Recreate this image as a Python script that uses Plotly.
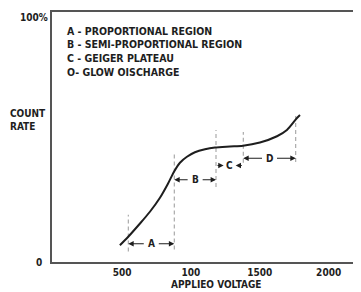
import plotly.graph_objects as go

# ---- data ----
voltage = [484, 543, 630, 702, 775, 833, 877, 920, 971, 1029, 1102, 1175, 1283, 1378, 1501, 1625, 1697, 1770, 1792]
count_rate = [6.7, 10.0, 15.4, 20.1, 25.7, 31.3, 36.1, 39.7, 42.1, 43.9, 45.1, 45.8, 46.2, 46.5, 47.8, 50.3, 52.8, 57.6, 58.8]

boundaries = [545, 879, 1182, 1380, 1761]
dash_bottom = [4.2, 5.0, 30.0, 39.7, 40.0]
dash_top = [18.9, 43.7, 52.8, 52.0, 59.6]

region_letters = ["A", "B", "C", "D"]
region_levels = [7.3, 32.9, 38.6, 41.5]
region_inward = [False, False, True, False]

legend_lines = [
    "A - PROPORTIONAL REGION",
    "B - SEMI-PROPORTIONAL REGION",
    "C - GEIGER PLATEAU",
    "O- GLOW OISCHARGE",
]

x_tick_vals = [500, 1000, 1500, 2000]
x_tick_text = ["500", "100", "1500", "2000"]
y_tick_vals = [0]
y_tick_text = ["0"]
y_top_label = "100%"

x_title = "APPLIEO VOLTAGE"
y_title = "COUNT<br>RATE"

# ---- layout constants (page has an 8px body margin) ----
OX, OY = 8, 8
W, H = 361 - OX, 292 - OY
AX_LEFT, AX_TOP, AX_BOTTOM = 52, 12, 262
ML, MR, MT = AX_LEFT - OX, 0, AX_TOP - OY
MB = 292 - AX_BOTTOM
PW, PH = W - ML - MR, H - MT - MB
INK = "#1e1e1e"
FONT = "DejaVu Sans Condensed, DejaVu Sans, Arial Narrow, sans-serif"
X_RANGE = [-9, 2235]


def px(xp):
    return (xp - AX_LEFT) / PW


def py(yp):
    return (AX_BOTTOM - yp) / PH


fig = go.Figure()

# dashed region boundaries
for b, lo, hi in zip(boundaries, dash_bottom, dash_top):
    fig.add_trace(go.Scatter(
        x=[b, b], y=[lo, hi], mode="lines",
        line=dict(color="#999999", width=1, dash="4px,3px"),
        hoverinfo="skip", showlegend=False,
    ))

# characteristic curve
fig.add_trace(go.Scatter(
    x=voltage, y=count_rate, mode="lines",
    line=dict(color=INK, width=2, shape="spline", smoothing=0.8),
    showlegend=False,
))

annotations = []
scale = PW / (X_RANGE[1] - X_RANGE[0])  # px per volt for label gaps
lab_font = dict(size=10, color=INK, family=FONT, weight="bold")
for i, letter in enumerate(region_letters):
    x0, x1 = boundaries[i], boundaries[i + 1]
    mid = (x0 + x1) / 2
    lvl = region_levels[i]
    gap = 6 / scale
    annotations.append(dict(
        x=mid, y=lvl, xref="x", yref="y", text=letter, showarrow=False,
        font=lab_font,
    ))
    if region_inward[i]:
        pairs = [(x0, mid - gap), (x1, mid + gap)]  # (tail, head)
    else:
        pairs = [(mid - gap, x0), (mid + gap, x1)]
    for tail, head in pairs:
        annotations.append(dict(
            x=head, y=lvl, ax=tail, ay=lvl, xref="x", yref="y",
            axref="x", ayref="y", text="", showarrow=True,
            arrowhead=2, arrowsize=0.9, arrowwidth=1.2, arrowcolor=INK,
            standoff=0, startstandoff=0,
        ))

legend_y = [31, 44, 58, 72]
for txt, yp in zip(legend_lines, legend_y):
    annotations.append(dict(
        x=px(65), y=py(yp), xref="paper", yref="paper", text=txt,
        showarrow=False, xanchor="left", yanchor="middle",
        font=dict(size=10.5, color=INK, family=FONT, weight="bold"),
    ))

annotations.append(dict(
    x=px(50), y=py(17), xref="paper", yref="paper", text=y_top_label,
    showarrow=False, xanchor="right", yanchor="middle",
    font=lab_font,
))
annotations.append(dict(
    x=px(8), y=py(120), xref="paper", yref="paper", text=y_title,
    showarrow=False, xanchor="left", yanchor="middle", align="left",
    font=lab_font,
))
annotations.append(dict(
    x=px(216), y=py(284), xref="paper", yref="paper", text=x_title,
    showarrow=False, xanchor="center", yanchor="middle",
    font=lab_font,
))

fig.update_layout(
    width=W, height=H,
    margin=dict(l=ML, r=MR, t=MT, b=MB, pad=0),
    paper_bgcolor="white", plot_bgcolor="white",
    font=dict(family=FONT, size=10, color=INK, weight="bold"),
    annotations=annotations,
    xaxis=dict(
        range=X_RANGE, showgrid=False, zeroline=False,
        showline=True, linecolor="#555555", linewidth=1.6, mirror=True,
        tickvals=x_tick_vals, ticktext=x_tick_text, ticks="",
        tickfont=lab_font,
    ),
    yaxis=dict(
        range=[0, 100], showgrid=False, zeroline=False,
        showline=True, linecolor="#555555", linewidth=1.6,
        tickvals=y_tick_vals, ticktext=y_tick_text, ticks="",
        ticklabelstandoff=6,
        tickfont=lab_font,
    ),
)

fig.write_html("out.html")
